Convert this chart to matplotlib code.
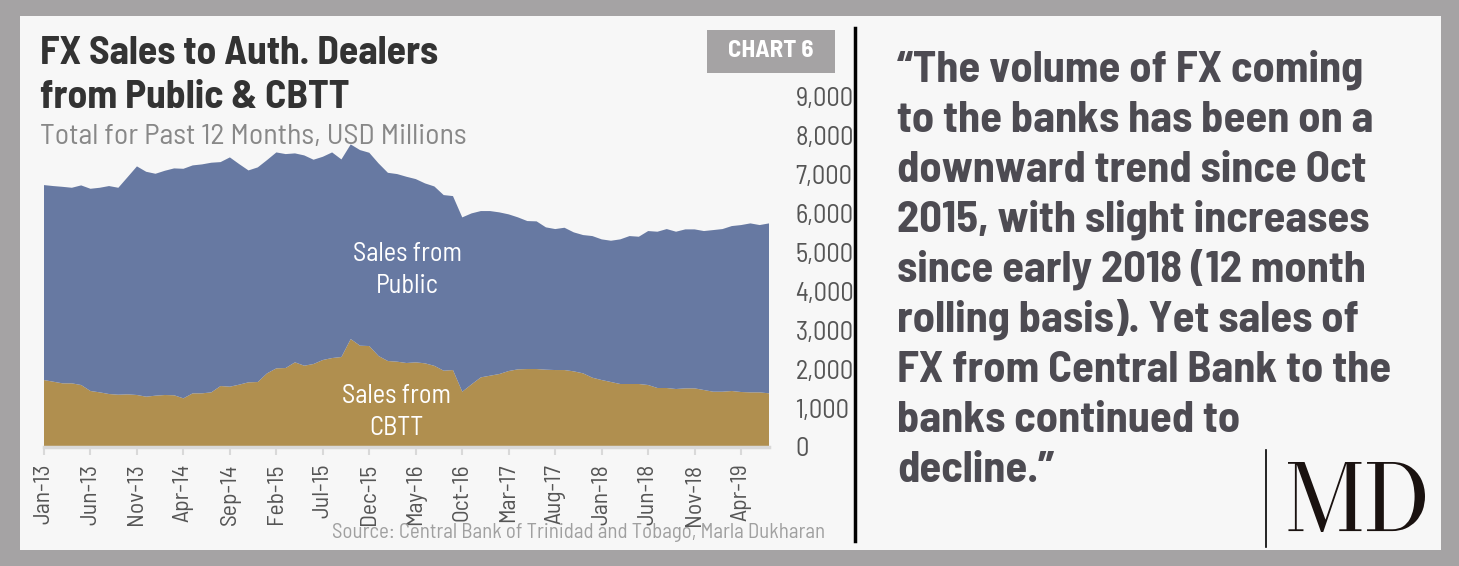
import numpy as np
import pandas as pd
import matplotlib
matplotlib.use('Agg')
import matplotlib.pyplot as plt
from matplotlib.patches import Rectangle, PathPatch
from matplotlib.lines import Line2D
from matplotlib.textpath import TextPath
from matplotlib.font_manager import FontProperties
from matplotlib.transforms import Affine2D, IdentityTransform
from matplotlib.ticker import FuncFormatter

# monthly, Jan-13 .. Jul-19 (12 month rolling totals, USD mn)
months = pd.date_range('2013-01-01', periods=79, freq='MS').strftime('%b-%y').tolist()

cbtt = [1722, 1679, 1637, 1637, 1594, 1440, 1405, 1362, 1345, 1354,
        1337, 1294, 1320, 1337, 1330, 1251, 1380, 1380, 1405, 1568,
        1551, 1603, 1663, 1671, 1894, 2023, 2031, 2177, 2091, 2134,
        2237, 2288, 2314, 2776, 2605, 2596, 2339, 2211, 2194, 2160,
        2177, 2151, 2087, 1962, 1979, 1422, 1611, 1791, 1834, 1877,
        1954, 1997, 2005, 2005, 1988, 1979, 1979, 1945, 1894, 1782,
        1722, 1671, 1620, 1620, 1620, 1594, 1517, 1517, 1491, 1508,
        1508, 1465, 1422, 1422, 1440, 1414, 1405, 1405, 1380]

public = [5013, 5031, 5053, 5029, 5133, 5200, 5261, 5348, 5321, 5586,
          5879, 5783, 5706, 5766, 5834, 5903, 5861, 5887, 5905, 5758,
          5896, 5672, 5449, 5519, 5484, 5552, 5501, 5373, 5407, 5253,
          5226, 5287, 5081, 5005, 5030, 4970, 4953, 4840, 4824, 4789,
          4712, 4627, 4613, 4516, 4473, 4482, 4396, 4276, 4233, 4156,
          4028, 3907, 3805, 3797, 3660, 3625, 3659, 3574, 3556, 3642,
          3617, 3633, 3719, 3804, 3787, 3959, 4019, 4087, 4045, 4088,
          4088, 4088, 4156, 4182, 4241, 4293, 4345, 4302, 4370]

y_ticks = [0, 1000, 2000, 3000, 4000, 5000, 6000, 7000, 8000, 9000]

quote_lines = ['\u201cThe volume of FX coming',
               'to the banks has been on a',
               'downward trend since Oct',
               '2015, with slight increases',
               'since early 2018 (12 month',
               'rolling basis). Yet sales of',
               'FX from Central Bank to the',
               'banks continued to',
               'decline.\u201d']

NARROW = ['Barlow Semi Condensed', 'Liberation Sans Narrow', 'DejaVu Sans']
W, H = 1459, 566
GOLD = '#b08f4f'
BLUE = '#6779a2'


def fx(px):
    return px / W


def fy(py):
    return 1 - py / H


fig = plt.figure(figsize=(W / 100, H / 100), dpi=100, facecolor='#a5a3a4')
fig.patches.append(Rectangle((fx(20), fy(550)), fx(1421), 534 / H,
                             transform=fig.transFigure, facecolor='#f7f7f7',
                             edgecolor='none', zorder=-10))

ax = fig.add_axes([fx(44), fy(447), fx(725), 350 / H])
ax.set_facecolor('none')
x = np.arange(len(months))
ax.stackplot(x, cbtt, public, colors=[GOLD, BLUE], linewidth=0)
ax.set_xlim(0, len(months) - 1)
ax.set_ylim(0, 9000)

for s in ['top', 'left', 'right']:
    ax.spines[s].set_visible(False)
ax.spines['bottom'].set_color('#d9d9d9')
ax.spines['bottom'].set_linewidth(2.5)

ax.set_xticks(x[::5])
ax.set_xticklabels(months[::5], rotation=90, fontsize=17, color='#555555',
                   family=NARROW)
ax.tick_params(axis='x', length=6, width=1.5, color='#d9d9d9', pad=6)

ax.yaxis.tick_right()
ax.set_yticks(y_ticks)
ax.yaxis.set_major_formatter(FuncFormatter(lambda v, p: f'{int(v):,}'))
ax.tick_params(axis='y', length=0, pad=19, labelsize=19, labelcolor='#555555')
for lab in ax.get_yticklabels():
    lab.set_family(NARROW)

ax.text(39.1, 4550, 'Sales from\nPublic', ha='center', va='center', color='white',
        fontsize=19, family=NARROW, linespacing=1.45)
ax.text(37.9, 900, 'Sales from\nCBTT', ha='center', va='center', color='white',
        fontsize=19, family=NARROW, linespacing=1.45)

# titles
fig.text(fx(40), fy(64), 'FX Sales to Auth. Dealers', fontsize=28.5, weight='bold',
         color='#333333', family=NARROW, va='baseline')
fig.text(fx(40), fy(108), 'from Public & CBTT', fontsize=28.5, weight='bold',
         color='#333333', family=NARROW, va='baseline')
fig.text(fx(40), fy(144), 'Total for Past 12 Months, USD Millions', fontsize=21.5,
         color='#888888', family=NARROW, va='baseline')

# chart badge
fig.patches.append(Rectangle((fx(707), fy(73)), fx(128), 43 / H,
                             transform=fig.transFigure, facecolor='#a5a3a4',
                             edgecolor='none'))
fig.text(fx(771), fy(51), 'CHART 6', fontsize=18, weight='bold', color='white',
         family=NARROW, ha='center', va='center')

fig.text(fx(825), fy(532), 'Source: Central Bank of Trinidad and Tobago, Marla Dukharan',
         fontsize=15, color='#a0a0a0', family=NARROW, ha='right', va='center')

# divider
fig.lines.append(Line2D([fx(855), fx(855)], [fy(28), fy(541)], color='black',
                        linewidth=2.5, transform=fig.transFigure))

# quote
for i, line in enumerate(quote_lines):
    fig.text(fx(897), fy(82 + i * 50), line, fontsize=32, weight='bold',
             color='#4d4b52', family=NARROW, va='baseline')

# MD logo
fig.lines.append(Line2D([fx(1266), fx(1266)], [fy(450), fy(547)], color='black',
                        linewidth=1.2, transform=fig.transFigure))
tp = TextPath((0, 0), 'MD', size=100,
              prop=FontProperties(family=['Bodoni Moda', 'Liberation Serif']))
ext = tp.get_extents()
sx = 137 / ext.width
sy = 70 / ext.height
tr = Affine2D().translate(-ext.x0, -ext.y0).scale(sx, sy).translate(1288, H - 532)
fig.patches.append(PathPatch(tr.transform_path(tp), facecolor='#1a1210',
                             edgecolor='none', transform=IdentityTransform()))

fig.savefig('out.png', dpi=100, facecolor=fig.get_facecolor())
